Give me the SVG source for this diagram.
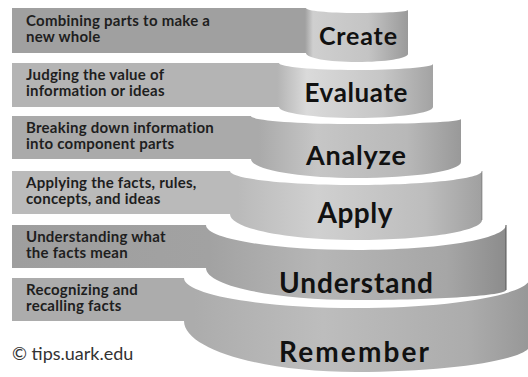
<svg xmlns="http://www.w3.org/2000/svg" width="528" height="377" viewBox="0 0 528 377">
  <defs>
    <!-- horizontal shading: flat banner on the left, lit band, darker right edge -->
    <linearGradient id="g1" gradientUnits="userSpaceOnUse" x1="12" y1="0" x2="408" y2="0">
      <stop offset="0" stop-color="#a0a0a0"/>
      <stop offset="0.74" stop-color="#a0a0a0"/>
      <stop offset="0.76" stop-color="#cfcfcf"/>
      <stop offset="0.9" stop-color="#c4c4c4"/>
      <stop offset="1" stop-color="#9a9a9a"/>
    </linearGradient>
    <linearGradient id="g2" gradientUnits="userSpaceOnUse" x1="12" y1="0" x2="433" y2="0">
      <stop offset="0" stop-color="#b4b4b4"/>
      <stop offset="0.63" stop-color="#b4b4b4"/>
      <stop offset="0.7" stop-color="#dadada"/>
      <stop offset="0.88" stop-color="#c6c6c6"/>
      <stop offset="1" stop-color="#a3a3a3"/>
    </linearGradient>
    <linearGradient id="g3" gradientUnits="userSpaceOnUse" x1="12" y1="0" x2="461" y2="0">
      <stop offset="0" stop-color="#aaaaaa"/>
      <stop offset="0.55" stop-color="#aaaaaa"/>
      <stop offset="0.68" stop-color="#c6c6c6"/>
      <stop offset="0.88" stop-color="#b8b8b8"/>
      <stop offset="1" stop-color="#999999"/>
    </linearGradient>
    <linearGradient id="g4" gradientUnits="userSpaceOnUse" x1="12" y1="0" x2="482" y2="0">
      <stop offset="0" stop-color="#bababa"/>
      <stop offset="0.48" stop-color="#bababa"/>
      <stop offset="0.65" stop-color="#d0d0d0"/>
      <stop offset="0.88" stop-color="#bdbdbd"/>
      <stop offset="1" stop-color="#a0a0a0"/>
    </linearGradient>
    <linearGradient id="g5" gradientUnits="userSpaceOnUse" x1="12" y1="0" x2="506" y2="0">
      <stop offset="0" stop-color="#9e9e9e"/>
      <stop offset="0.4" stop-color="#a2a2a2"/>
      <stop offset="0.62" stop-color="#b6b6b6"/>
      <stop offset="0.88" stop-color="#a6a6a6"/>
      <stop offset="1" stop-color="#8c8c8c"/>
    </linearGradient>
    <linearGradient id="g6" gradientUnits="userSpaceOnUse" x1="12" y1="0" x2="530" y2="0">
      <stop offset="0" stop-color="#acacac"/>
      <stop offset="0.35" stop-color="#acacac"/>
      <stop offset="0.6" stop-color="#bdbdbd"/>
      <stop offset="0.88" stop-color="#acacac"/>
      <stop offset="1" stop-color="#979797"/>
    </linearGradient>
    <style>
      .desc { font-family: Lato, "Liberation Sans", sans-serif; font-weight: bold; font-size: 15px; letter-spacing: 0.25px; fill: #1e1e1e; }
      .level { font-family: Lato, "Liberation Sans", sans-serif; font-weight: bold; fill: #111111; text-anchor: middle; }
      .edge { fill: none; stroke: #555555; stroke-width: 1; }
      .credit { font-family: Lato, "Liberation Sans", sans-serif; font-size: 18px; fill: #333333; }
    </style>
  </defs>

  <rect width="528" height="377" fill="#ffffff"/>

  <!-- each tier: banner strip on the left running into the curved cake band -->
  <g id="tier-create">
    <path fill="url(#g1)" d="M12,8 H306 C306,10.8 328,13 357,13 C385,13 408,11.7 408,10 V54 C408,58.4 385,62 357,62 C328,62 306,58 306,53 H12 Z"/>
    <text class="desc" x="26" y="26">Combining parts to make a</text>
    <text class="desc" x="26" y="42">new whole</text>
    <text class="level" x="358" y="45" font-size="25" textLength="78">Create</text>
  </g>

  <g id="tier-evaluate">
    <path fill="url(#g2)" d="M12,63 H279 C279,66.9 314,70 356,70 C398,70 433,67.3 433,64 V107 C433,113 398,118 356,118 C314,118 279,113 279,107 H12 Z"/>
    <text class="desc" x="26" y="80">Judging the value of</text>
    <text class="desc" x="26" y="96">information or ideas</text>
    <text class="level" x="356" y="102" font-size="26" textLength="103">Evaluate</text>
  </g>

  <g id="tier-analyze">
    <path fill="url(#g3)" d="M12,116 H251 C251,120.4 298,124 356,124 C414,124 461,121.8 461,119 V162 C461,171 414,178 356,178 C298,178 251,169.5 251,159 H12 Z"/>
    <text class="desc" x="26" y="133">Breaking down information</text>
    <text class="desc" x="26" y="149">into component parts</text>
    <text class="level" x="356" y="165" font-size="27" textLength="100">Analyze</text>
  </g>

  <g id="tier-apply">
    <path fill="url(#g4)" d="M12,171 H230 C230,178.7 286,185 356,185 C426,185 482,178.7 482,171 V220 C482,231 426,240 356,240 C286,240 230,228.4 230,214 H12 Z"/>
    <path class="edge" d="M482,171 V220" stroke-opacity="0.5"/>
    <text class="desc" x="26" y="188">Applying the facts, rules,</text>
    <text class="desc" x="26" y="204">concepts, and ideas</text>
    <text class="level" x="355" y="223" font-size="28" textLength="75">Apply</text>
  </g>

  <g id="tier-understand">
    <path fill="url(#g5)" d="M12,225 H206 C206,238.8 273,250 356,250 C439,250 506,238.8 506,225 V290 C506,295.5 439,300 356,300 C273,300 206,285.7 206,268 H12 Z"/>
    <path class="edge" d="M506,225 V290"/>
    <text class="desc" x="26" y="242">Understanding what</text>
    <text class="desc" x="26" y="258">the facts mean</text>
    <text class="level" x="356" y="293" font-size="28" textLength="154">Understand</text>
  </g>

  <g id="tier-remember">
    <path fill="url(#g6)" d="M12,278 H184 C184,294.6 261,308 356,308 C451,308 530,294.6 530,278 V345 C530,359.4 451,372 356,372 C261,372 184,349 184,321 H12 Z"/>
    <text class="desc" x="26" y="295">Recognizing and</text>
    <text class="desc" x="26" y="311">recalling facts</text>
    <text class="level" x="354" y="362" font-size="28" textLength="150">Remember</text>
  </g>

  <g id="credit">
    <text class="credit" x="12" y="360">© tips.uark.edu</text>
  </g>
</svg>
